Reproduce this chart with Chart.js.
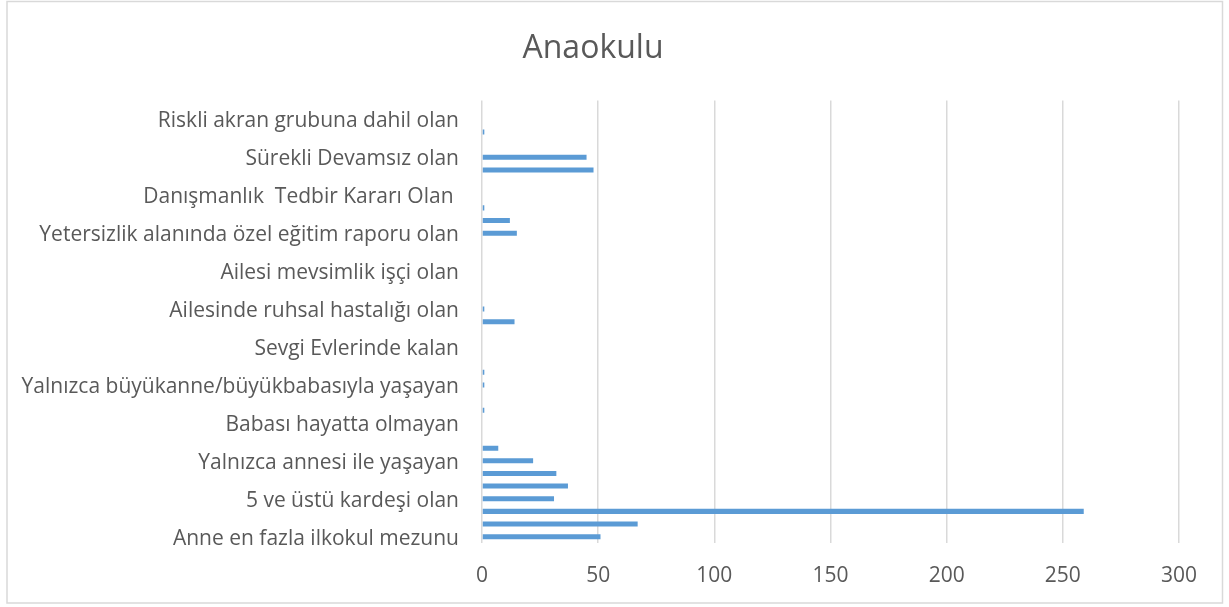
<!DOCTYPE html>
<html>
<head>
<meta charset="utf-8">
<script src="https://cdn.jsdelivr.net/npm/chart.js@4.4.1/dist/chart.umd.min.js"></script>
<style>
  html, body { margin: 0; padding: 0; background: #ffffff; }
  #wrap { position: relative; width: 1229px; height: 607px; }
</style>
</head>
<body>
<div id="wrap"><canvas id="c" width="1229" height="607"></canvas></div>
<script>
// Categories listed bottom-to-top (as in the source chart); '' = label hidden by axis label skipping
const categories = [
  'Anne en fazla ilkokul mezunu', '', '',
  '5 ve üstü kardeşi olan', '', '',
  'Yalnızca annesi ile yaşayan', '', '',
  'Babası hayatta olmayan', '', '',
  'Yalnızca büyükanne/büyükbabasıyla yaşayan', '', '',
  'Sevgi Evlerinde kalan', '', '',
  'Ailesinde ruhsal hastalığı olan', '', '',
  'Ailesi mevsimlik işçi olan', '', '',
  'Yetersizlik alanında özel eğitim raporu olan', '', '',
  'Danışmanlık  Tedbir Kararı Olan ', '', '',
  'Sürekli Devamsız olan', '', '',
  'Riskli akran grubuna dahil olan', ''
];
const values = [
  51, 67, 259,
  31, 37, 32,
  22, 7, 0,
  0, 1, 0,
  1, 1, 0,
  0, 0, 14,
  1, 0, 0,
  0, 0, 0,
  15, 12, 1,
  0, 0, 48,
  45, 0, 1,
  0, 0
];
const xTicks = [0, 50, 100, 150, 200, 250, 300];
const chartTitle = 'Anaokulu';

const FONT = '"Open Sans", "DejaVu Sans", sans-serif';
const TXT = '#595959';
const GRID = '#d9d9d9';

const framePlugin = {
  id: 'frame',
  afterDraw(chart) {
    const ctx = chart.ctx;
    ctx.save();
    ctx.strokeStyle = GRID;
    ctx.lineWidth = 1.5;
    ctx.strokeRect(7, 1.5, 1215.5, 601.5);
    ctx.restore();
  }
};

new Chart(document.getElementById('c'), {
  type: 'bar',
  data: {
    labels: categories,
    datasets: [{
      data: values,
      backgroundColor: '#5b9bd5',
      borderWidth: 0,
      barPercentage: 0.4,
      categoryPercentage: 1.0
    }]
  },
  options: {
    indexAxis: 'y',
    responsive: false,
    animation: false,
    devicePixelRatio: 1,
    layout: { padding: { left: 7, right: 50, top: 0, bottom: 0 } },
    plugins: {
      legend: { display: false },
      tooltip: { enabled: false },
      title: {
        display: true,
        text: chartTitle,
        color: TXT,
        font: { family: FONT, size: 32, weight: 'normal' },
        padding: { top: 30, bottom: 32 }
      }
    },
    scales: {
      x: {
        min: 0, max: 300,
        afterBuildTicks(s) { s.ticks = xTicks.map(v => ({ value: v })); },
        ticks: { color: TXT, font: { family: FONT, size: 21 }, padding: 20 },
        grid: { color: GRID, lineWidth: 1.5, drawTicks: false },
        border: { display: false },
        afterFit(s) { s.height = 64; }
      },
      y: {
        reverse: true,
        ticks: { color: TXT, font: { family: FONT, size: 21 }, padding: 23, autoSkip: false, labelOffset: 2 },
        grid: { display: false, drawTicks: false },
        border: { display: false },
        afterFit(s) { s.width = 475; }
      }
    }
  },
  plugins: [framePlugin]
});
</script>
</body>
</html>
